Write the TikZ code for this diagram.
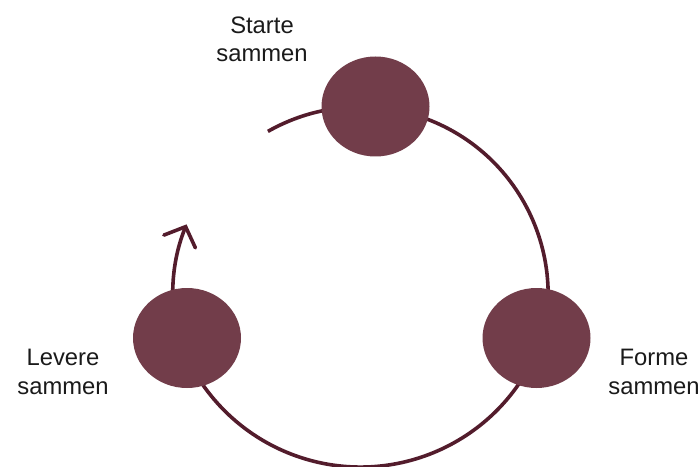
\documentclass[tikz,border=0pt]{standalone}
\usepackage{fontspec}
\setmainfont{Liberation Sans}
\usetikzlibrary{arrows.meta,shapes.geometric}
\definecolor{blobfill}{HTML}{723D4A}
\definecolor{cycleline}{HTML}{531C2C}
\definecolor{labeltext}{HTML}{1A1A1A}
\tikzset{
  blob/.style={ellipse, fill=blobfill, inner sep=0pt, minimum width=108pt, minimum height=100pt},
  cyclearc/.style={draw=cycleline, line width=3.6pt},
  lbl/.style={align=center, text=labeltext, font=\fontsize{23.8}{28.5}\selectfont, inner sep=0pt, anchor=base}
}
\begin{document}
\begin{tikzpicture}[x=1pt,y=1pt]
\useasboundingbox (0,0) rectangle (700,466);
% arc start points
\coordinate (tail) at (267.9,334.6);
\coordinate (rin) at (541.2,125.5);
\coordinate (lin) at (184.2,107.2);
% connectors (drawn behind the ellipses)
\draw[cyclearc] (tail) arc[start angle=119.6, end angle=-20, radius=187.6];
\draw[cyclearc] (rin) arc[start angle=-20, end angle=-160, radius=192.3];
\draw[cyclearc, -{Straight Barb[length=16pt, width=34pt, line cap=round]}] (lin) arc[start angle=200, end angle=158, radius=187.6];
% ellipses
\node[blob] (top) at (375.5,359.5) {};
\node[blob] (left) at (187,128) {};
\node[blob] (right) at (536.5,128) {};
% labels (anchored at the baseline of the last line)
\node[lbl] (ltop) at (262,404) {Starte\\sammen};
\node[lbl] (lleft) at (63,72) {Levere\\sammen};
\node[lbl] (lright) at (654,72) {Forme\\sammen};
\end{tikzpicture}
\end{document}
